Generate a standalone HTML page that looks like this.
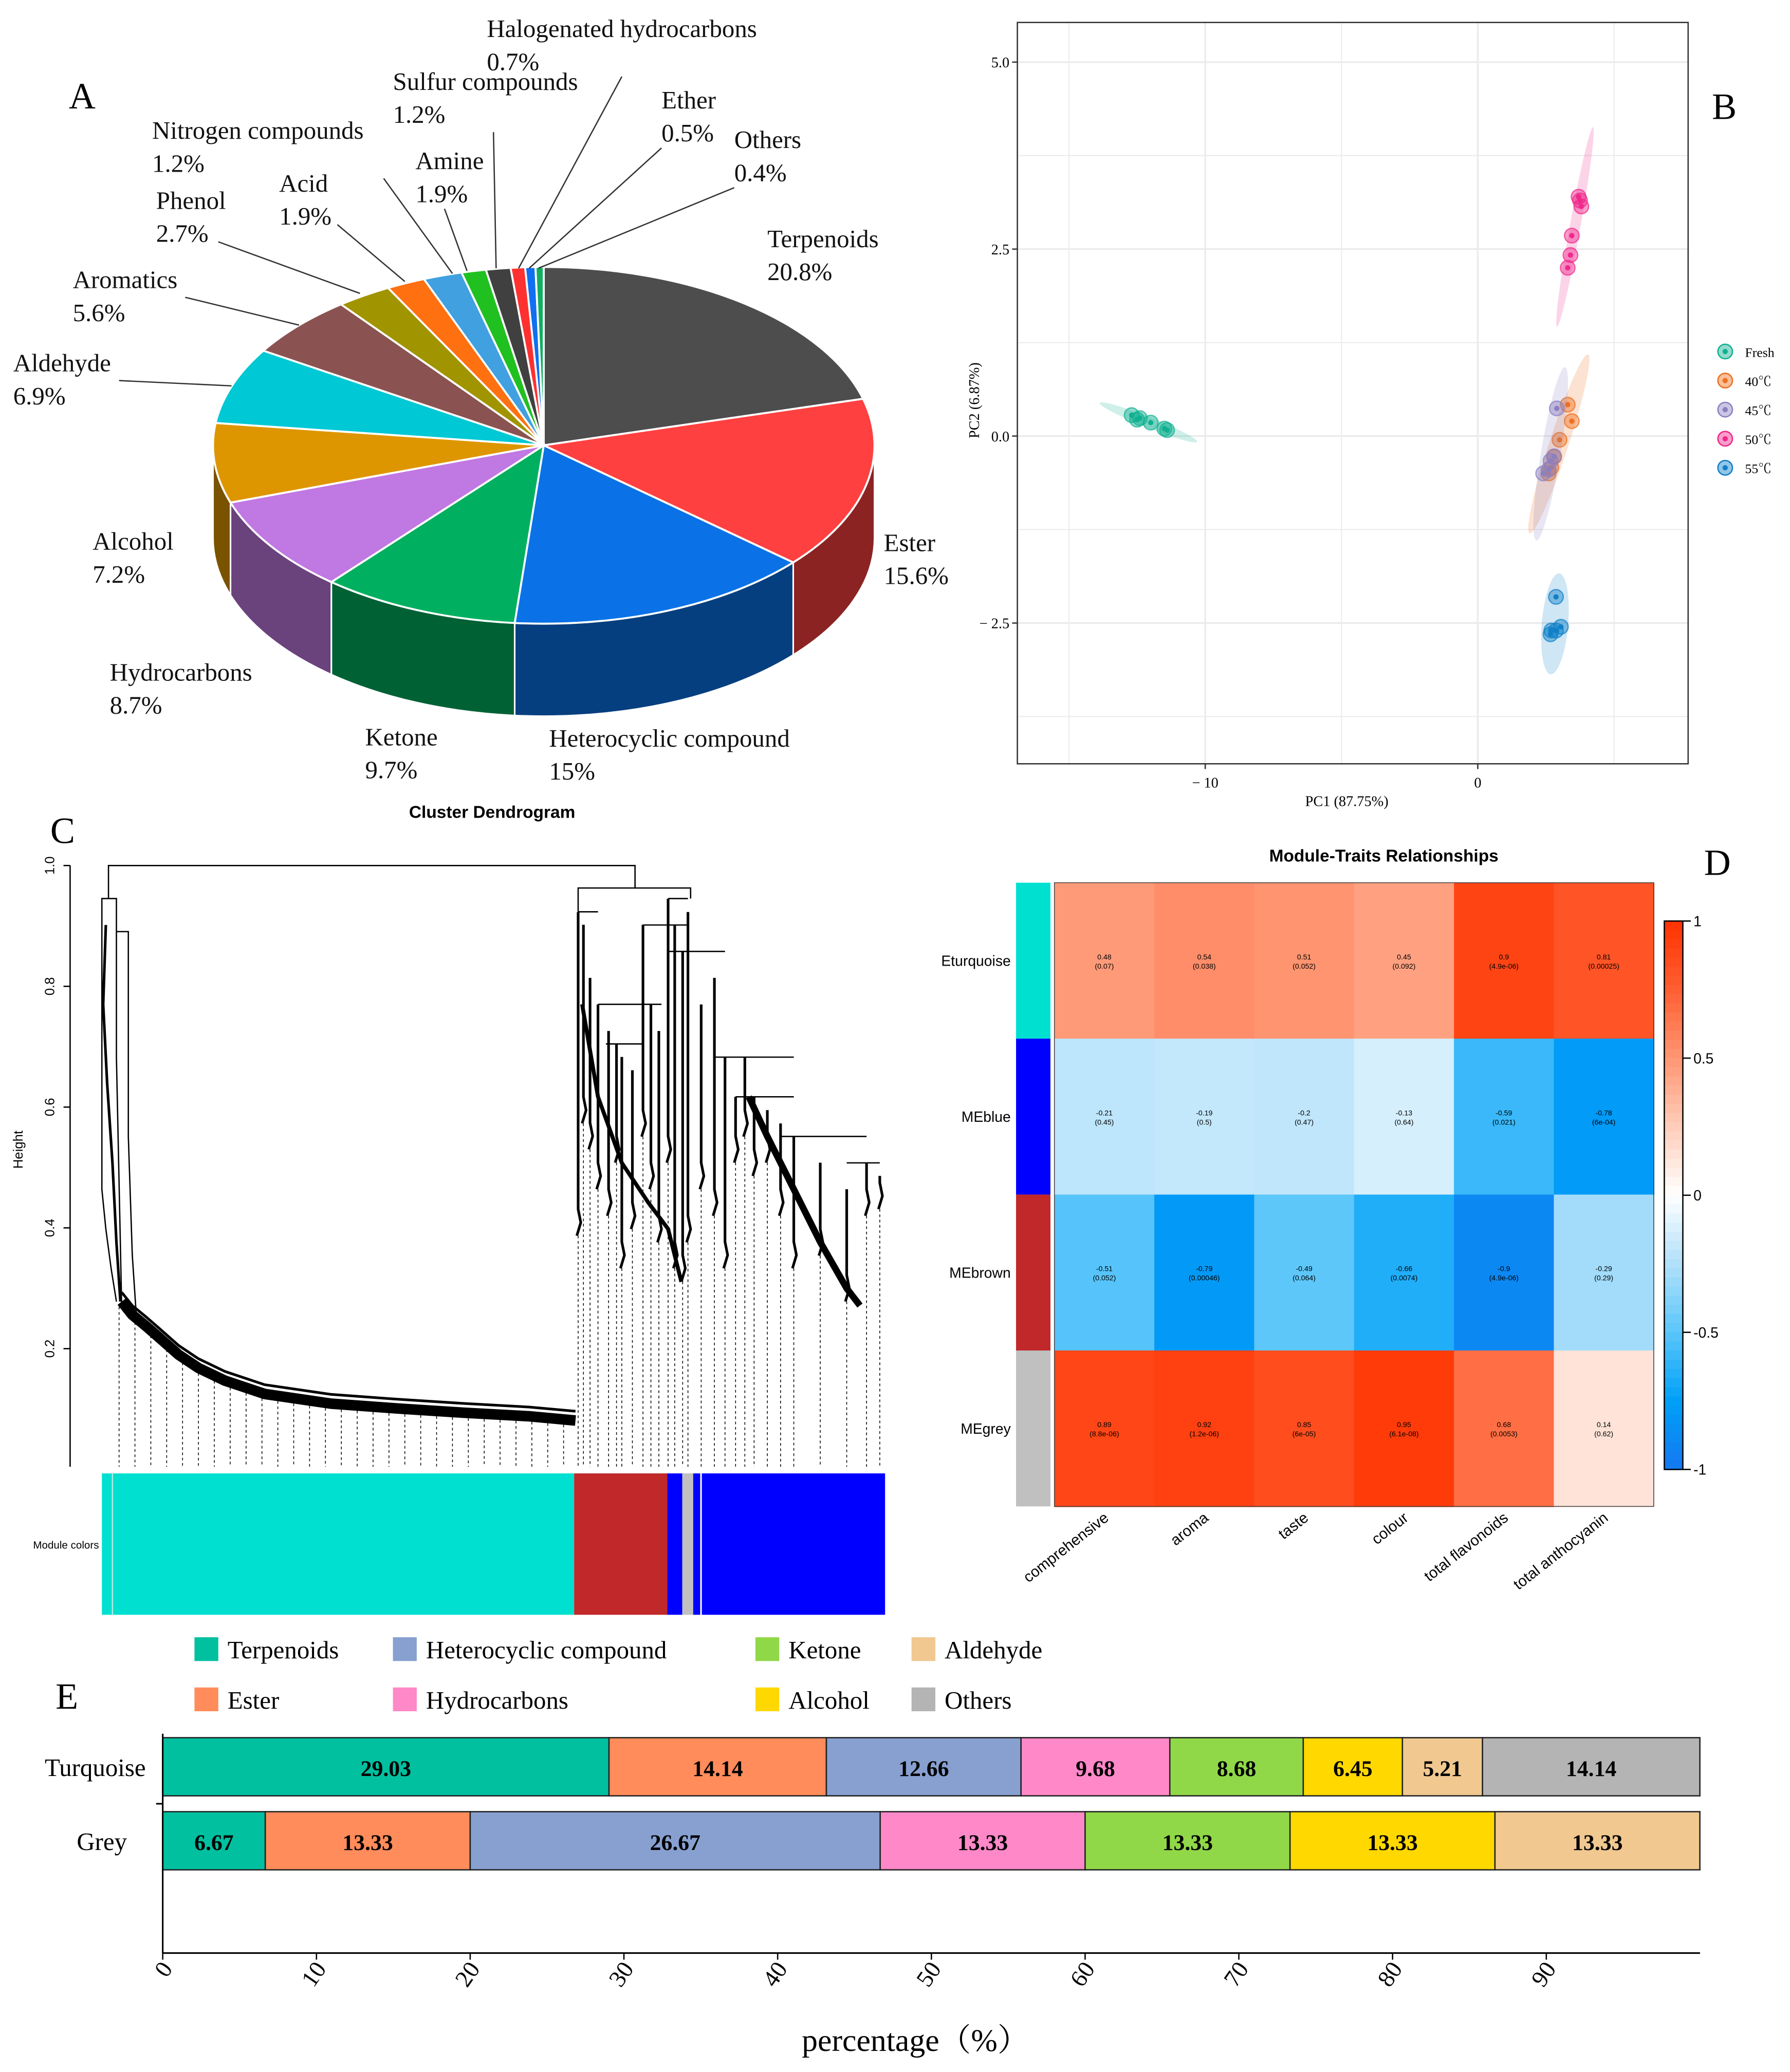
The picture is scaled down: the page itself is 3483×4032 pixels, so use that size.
<!DOCTYPE html>
<html><head><meta charset="utf-8"><style>
html,body{margin:0;padding:0;background:#fff}
svg{display:block}
.serif{font-family:"Liberation Serif","Noto Serif CJK SC",serif}
.sans{font-family:"Liberation Sans","Noto Sans CJK SC",sans-serif}
</style></head><body>
<svg id="fig" width="3483" height="4032" viewBox="0 0 1353 1568" preserveAspectRatio="none" xmlns="http://www.w3.org/2000/svg">
<rect x="0" y="0" width="1353" height="1568" fill="#fff"/>
<g id="pieG"></g>
<g id="pcaG"></g>
<g id="dendG"></g>
<g id="heatG"></g>
<g id="barG"></g>
<g class="serif" font-size="28">
<text x="52" y="82">A</text>
<text x="1294" y="90">B</text>
<text x="38" y="638">C</text>
<text x="1288" y="662">D</text>
<text x="42" y="1293">E</text>
</g>
</svg>
<script>
const NS='http://www.w3.org/2000/svg';
function mk(parent,tag,attrs,text){const e=document.createElementNS(NS,tag);for(const k in attrs)e.setAttribute(k,attrs[k]);if(text!==undefined)e.textContent=text;parent.appendChild(e);return e;}

/* ---------- A: pie data ---------- */
const pieLabels=['Terpenoids','Ester','Heterocyclic compound','Ketone','Hydrocarbons','Alcohol','Aldehyde','Aromatics','Phenol','Acid','Amine','Nitrogen compounds','Sulfur compounds','Halogenated hydrocarbons','Ether','Others'];
const pieValues=[20.8,15.6,15,9.7,8.7,7.2,6.9,5.6,2.7,1.9,1.9,1.2,1.2,0.7,0.5,0.4];
const pieColors=['#4d4d4d','#ff4040','#0a72e6','#00b060','#c078e2','#de9600','#00c8d4','#8b5252','#a09400','#ff7010','#40a0e0','#20c020','#404040','#ff3030','#1070f0','#10b060'];
const pieLabelPos=[[580,187],[668,417],[415,565],[276,564],[83,515],[70,416],[10,281],[55,218],[118,158],[211,145],[314,128],[115,105],[297,68],[368,28],[500,82],[555,112]];
const pieLeader=[null,null,null,null,null,null,[90,288,175,292],[140,225,226,246],[165,183,272,222],[255,170,306,213],[336,158,353,205],[290,135,342,207],[373,100,375,203],[470,58,392,203],[500,112,400,203],[555,142,407,203]];
(function(){
 const g=document.getElementById('pieG');
 const cx=411,cy=337,rx=250,ry=135,D=70;
 const P=(t,dy=0)=>{const r=t*Math.PI/180;return [cx+rx*Math.sin(r),cy-ry*Math.cos(r)+dy];};
 const tot=pieValues.reduce((a,b)=>a+b,0);
 const dark=(h,f)=>{const n=parseInt(h.slice(1),16);return `rgb(${Math.round((n>>16)*f)},${Math.round(((n>>8)&255)*f)},${Math.round((n&255)*f)})`;};
 let a=0;const sl=[];
 pieValues.forEach((v,i)=>{const b=a+v/tot*360;sl.push([a,b]);a=b;});
 sl.forEach(([a0,b0],i)=>{
   const s=Math.max(a0,90),e=Math.min(b0,270);if(e<=s)return;
   const p1=P(s),p2=P(e),p3=P(e,D),p4=P(s,D);
   const side=mk(g,'path',{d:`M${p1} A${rx} ${ry} 0 0 1 ${p2} L${p3} A${rx} ${ry} 0 0 0 ${p4} Z`,fill:dark(pieColors[i],0.55),stroke:'#fff','stroke-width':1.2});
   
   
 });
 sl.forEach(([a0,b0],i)=>{
   const p1=P(a0),p2=P(b0);const large=(b0-a0)>180?1:0;
   const s=mk(g,'path',{d:`M${cx},${cy} L${p1} A${rx} ${ry} 0 ${large} 1 ${p2} Z`,fill:pieColors[i],stroke:'#fff','stroke-width':1.5});
   
   
 });
 pieLabels.forEach((l,i)=>{
   const [x,y]=pieLabelPos[i];
   if(pieLeader[i]){const L=pieLeader[i];const ln=mk(g,'line',{x1:L[0],y1:L[1],x2:L[2],y2:L[3],stroke:'#333','stroke-width':1});
     
     }
   const t=mk(g,'text',{x:x,y:y,'font-size':19,class:'serif',fill:'#111'});
   
   
   mk(t,'tspan',{x:x,dy:0},l);
   mk(t,'tspan',{x:x,dy:25},(pieValues[i])+'%');
 });
})();

/* ---------- B: PCA ---------- */
const pcaGroups=['Fresh','40℃','45℃','50℃','55℃'];
const pcaColors=['#10b090','#f07020','#8a80c0','#f0288c','#1080c8'];
const pcaPC1=[[-12.7,-12.4,-12.0,-11.5,-11.4,-12.5],[3.3,3.45,3.0,2.8,2.6,2.7],[2.9,2.8,2.67,2.4,2.6],[3.7,3.8,3.45,3.4,3.3,3.75],[2.87,3.05,2.87,2.67,2.7]];
const pcaPC2=[[0.28,0.24,0.18,0.1,0.08,0.22],[0.42,0.2,-0.05,-0.28,-0.5,-0.42],[0.37,-0.27,-0.33,-0.5,-0.45],[3.2,3.07,2.68,2.42,2.25,3.15],[-2.15,-2.55,-2.6,-2.65,-2.6]];
const pcaXTicks=[-10,0];const pcaYTicks=[5.0,2.5,0.0,-2.5];
(function(){
 const g=document.getElementById('pcaG');
 const X=v=>1117+v*20.6, Y=v=>330-v*56.6;
 const L=769,R=1276,T=17,B=578;
 [-15,-10,-5,0,5].forEach(v=>{const ln=mk(g,'line',{x1:X(v),x2:X(v),y1:T,y2:B,stroke:'#ebebeb','stroke-width':v%10===0?1.3:0.8});
   
   });
 [5,3.75,2.5,1.25,0,-1.25,-2.5,-3.75].forEach(v=>{const ln=mk(g,'line',{x1:L,x2:R,y1:Y(v),y2:Y(v),stroke:'#ebebeb','stroke-width':v%2.5===0?1.3:0.8});
   
   });
 const box=mk(g,'rect',{x:L,y:T,width:R-L,height:B-T,fill:'none',stroke:'#333','stroke-width':1});
 
 
 pcaXTicks.forEach(v=>{mk(g,'line',{x1:X(v),x2:X(v),y1:B,y2:B+4,stroke:'#333'});
   const t=mk(g,'text',{x:X(v),y:B+18,'font-size':11,'text-anchor':'middle',class:'serif'},v<0?'− '+Math.abs(v):String(v));
   
   });
 pcaYTicks.forEach(v=>{mk(g,'line',{x1:L-4,x2:L,y1:Y(v),y2:Y(v),stroke:'#333'});
   const t=mk(g,'text',{x:L-6,y:Y(v)+4,'font-size':11,'text-anchor':'end',class:'serif'},(v<0?'− '+Math.abs(v).toFixed(1):v.toFixed(1)));
   
   });
 const xt=mk(g,'text',{x:1018,y:610,'font-size':11,'text-anchor':'middle',class:'serif'},'PC1 (87.75%)');
 
 
 const yt=mk(g,'text',{x:0,y:0,'font-size':11,'text-anchor':'middle',class:'serif',transform:'translate(740,303) rotate(-90)'},'PC2 (6.87%)');
 
 
 pcaGroups.forEach((name,gi)=>{
   const xs=pcaPC1[gi].map(X),ys=pcaPC2[gi].map(Y),n=xs.length;
   const mx=xs.reduce((a,b)=>a+b)/n,my=ys.reduce((a,b)=>a+b)/n;
   let sxx=0,syy=0,sxy=0;for(let i=0;i<n;i++){sxx+=(xs[i]-mx)**2;syy+=(ys[i]-my)**2;sxy+=(xs[i]-mx)*(ys[i]-my);}
   sxx/=(n-1);syy/=(n-1);sxy/=(n-1);
   const tr=sxx+syy,det=sxx*syy-sxy*sxy,d=Math.sqrt(Math.max(tr*tr/4-det,0));
   const l1=tr/2+d,l2=Math.max(tr/2-d,0);
   const ang=Math.atan2(l1-sxx,sxy||1e-9)*180/Math.PI;
   const k=3.3;
   const el=mk(g,'ellipse',{cx:mx,cy:my,rx:Math.max(Math.sqrt(l1)*k,6),ry:Math.max(Math.sqrt(l2)*k,4),fill:pcaColors[gi],'fill-opacity':0.2,transform:`rotate(${ang} ${mx} ${my})`});
   
   
   for(let i=0;i<n;i++){
     const c=mk(g,'circle',{cx:xs[i],cy:ys[i],r:5.5,fill:pcaColors[gi],'fill-opacity':0.45,stroke:pcaColors[gi],'stroke-opacity':0.7});
     
     
     mk(g,'circle',{cx:xs[i],cy:ys[i],r:2,fill:pcaColors[gi]});
   }
   const ly=266+gi*22;
   const lc=mk(g,'circle',{cx:1304,cy:ly,r:5.5,fill:pcaColors[gi],'fill-opacity':0.45,stroke:pcaColors[gi]});
   
   
   mk(g,'circle',{cx:1304,cy:ly,r:2,fill:pcaColors[gi]});
   const lt=mk(g,'text',{x:1319,y:ly+4,'font-size':10,class:'serif'},name);
   
   
 });
})();

/* ---------- C: dendrogram ---------- */
const dendYTicks=[0.2,0.4,0.6,0.8,1.0];
const leftBandX=[92,100,110,120,135,150,170,200,250,300,350,400,435];
const leftBandH=[0.278,0.256,0.238,0.219,0.190,0.168,0.147,0.125,0.109,0.101,0.094,0.088,0.081];
const rightDropX=[437,441,446,452,460,466,470,478,486,492,498,505,510,516,520,530,540,548,556,563,570,580,590,600,620,640,655,665];
const rightDropTop=[0.923,0.902,0.814,0.770,0.726,0.705,0.683,0.661,0.902,0.770,0.726,0.945,0.902,0.858,0.923,0.770,0.814,0.683,0.617,0.683,0.617,0.595,0.573,0.551,0.508,0.464,0.508,0.486];
const rightDropBot=[0.387,0.573,0.530,0.464,0.420,0.508,0.333,0.398,0.551,0.464,0.376,0.508,0.333,0.311,0.376,0.464,0.420,0.333,0.508,0.551,0.486,0.508,0.420,0.333,0.354,0.278,0.420,0.431];
const moduleSegs=[['#00e0d0',0,0.603],['#c0282a',0.603,0.722],['#0000ff',0.722,0.741],['#c0c0c0',0.741,0.755],['#0000ff',0.755,0.764],['#ffffff',0.764,0.766],['#0000ff',0.766,1]];
(function(){
 const g=document.getElementById('dendG');
 const Y=h=>1112-h*457;
 const ax=mk(g,'line',{x1:53,x2:53,y1:Y(1.0),y2:1110,stroke:'#000'});
 
 
 dendYTicks.forEach(v=>{mk(g,'line',{x1:48,x2:53,y1:Y(v),y2:Y(v),stroke:'#000'});
  const t=mk(g,'text',{x:0,y:0,'font-size':10,'text-anchor':'middle',class:'sans',transform:`translate(41,${Y(v)}) rotate(-90)`},v.toFixed(1));
  
  });
 const ht=mk(g,'text',{x:0,y:0,'font-size':10,'text-anchor':'middle',class:'sans',transform:'translate(17,870) rotate(-90)'},'Height');
 
 
 const tt=mk(g,'text',{x:372,y:619,'font-size':13,'font-weight':'bold','text-anchor':'middle',class:'sans'},'Cluster Dendrogram');
 
 
 const st={stroke:'#000','stroke-width':1,fill:'none'};
 mk(g,'path',Object.assign({d:`M82 680 V655 H480 V672`},st));
 mk(g,'path',Object.assign({d:`M437 690 V672 H522 V680`},st));
 // left branch
 mk(g,'path',Object.assign({d:`M77 750 V680 H88 V705 H97 V735 M77 750 V900 L80 930 L84 960 L88 985 M88 705 V800 L92 990 M97 735 V860 L100 950 L103 995`},st));
 mk(g,'path',Object.assign({d:`M80 700 L78 760 L81 820 L85 880 L88 940 L91 985`},{stroke:'#000','stroke-width':2,fill:'none'}));
 let d='M'+leftBandX[0]+' '+Y(leftBandH[0]);
 leftBandX.forEach((x,i)=>{d+=` L${x} ${Y(leftBandH[i])}`;});
 const band=mk(g,'path',{d:d,stroke:'#000','stroke-width':8,fill:'none','stroke-linejoin':'round'});
 
 
 mk(g,'path',{d:d,transform:'translate(0,-7)',stroke:'#000','stroke-width':2,fill:'none'});
 for(let x=90;x<=430;x+=12){
   let i=0;while(i<leftBandX.length-1&&leftBandX[i+1]<x)i++;
   const t=(x-leftBandX[i])/((leftBandX[i+1]||x+1)-leftBandX[i]);
   const h=leftBandH[i]+(leftBandH[Math.min(i+1,leftBandH.length-1)]-leftBandH[i])*Math.max(0,Math.min(1,t));
   const ln=mk(g,'line',{x1:x,x2:x,y1:Y(h)+4,y2:1110,stroke:'#000','stroke-width':0.6,'stroke-dasharray':'2,2'});
   
   
 }
 // right branches
 mk(g,'path',Object.assign({d:`M437 690 H452 M486 700 H520 M452 760 H500 M505 720 H548 M540 800 H600 M556 830 H600 M590 860 H655 M640 880 H665 M458 790 H486 M505 680 H520`},st));
 rightDropX.forEach((x,i)=>{
   const y1=Y(rightDropTop[i]),y2=Y(rightDropBot[i]);
   const p=mk(g,'path',{d:`M${x} ${y1} V${y2-20} L${x+2} ${y2-10} L${x-1} ${y2}`,stroke:'#000','stroke-width':2,fill:'none'});
   
   
   const ln=mk(g,'line',{x1:x,x2:x,y1:y2,y2:1110,stroke:'#000','stroke-width':0.6,'stroke-dasharray':'2,2'});
   
   
 });
 mk(g,'path',{d:`M566 830 L580 860 L600 900 L620 940 L640 975 L650 988`,stroke:'#000','stroke-width':5,fill:'none'});
 mk(g,'path',{d:`M440 760 L452 830 L470 880 L490 910 L505 930 L515 970`,stroke:'#000','stroke-width':3,fill:'none'});
 const x0=77,x1=669;
 moduleSegs.forEach(([c,a,b])=>{const r=mk(g,'rect',{x:x0+a*(x1-x0),y:1115,width:(b-a)*(x1-x0),height:107,fill:c});
  
  });
 mk(g,'line',{x1:85,x2:85,y1:1115,y2:1222,stroke:'#b0e8e0','stroke-width':1});
 const ml=mk(g,'text',{x:25,y:1172,'font-size':8,class:'sans'},'Module colors');
 
 
})();

/* ---------- D: heatmap ---------- */
const hmRows=['MEturquoise','MEblue','MEbrown','MEgrey'];
const hmRowColors=['#00e0d0','#0000ff','#c0282a','#c0c0c0'];
const hmCols=['comprehensive','aroma','taste','colour','total flavonoids','total anthocyanin'];
const hmCorr=[[0.48,0.54,0.51,0.45,0.9,0.81],[-0.21,-0.19,-0.2,-0.13,-0.59,-0.78],[-0.51,-0.79,-0.49,-0.66,-0.9,-0.29],[0.89,0.92,0.85,0.95,0.68,0.14]];
const hmP=[['0.07','0.038','0.052','0.092','4.9e-06','0.00025'],['0.45','0.5','0.47','0.64','0.021','6e-04'],['0.052','0.00046','0.064','0.0074','4.9e-06','0.29'],['8.8e-06','1.2e-06','6e-05','6.1e-08','0.0053','0.62']];
const cbTicks=[1,0.5,0,-0.5,-1];
const cStops=[[-1,[20,120,240]],[-0.75,[0,160,248]],[-0.5,[90,198,250]],[-0.25,[176,224,250]],[0,[255,255,255]],[0.25,[255,205,185]],[0.5,[255,150,115]],[0.75,[255,95,50]],[1,[255,50,0]]];
function hmColor(v){for(let i=0;i<cStops.length-1;i++){const [a,ca]=cStops[i],[b,cb]=cStops[i+1];if(v<=b||i===cStops.length-2){const t=Math.max(0,Math.min(1,(v-a)/(b-a)));return `rgb(${ca.map((c,k)=>Math.round(c+(cb[k]-c)*t)).join(',')})`;}}}
(function(){
 const g=document.getElementById('heatG');
 const L=797,T=668,W=75.5,H=118;
 const tt=mk(g,'text',{x:1046,y:652,'font-size':13,'font-weight':'bold','text-anchor':'middle',class:'sans'},'Module-Traits Relationships');
 
 
 hmRows.forEach((r,i)=>{
   const s=mk(g,'rect',{x:768,y:T+i*H,width:26,height:H,fill:hmRowColors[i]});
   
   
   const lt=mk(g,'text',{x:764,y:T+i*H+H/2+4,'font-size':11,'text-anchor':'end',class:'sans'},i===0?'Eturquoise':r);
   
   
   hmCols.forEach((c,j)=>{
     const cell=mk(g,'rect',{x:L+j*W,y:T+i*H,width:W+0.5,height:H+0.5,fill:hmColor(hmCorr[i][j])});
     
     
     const t=mk(g,'text',{x:L+j*W+W/2,y:T+i*H+H/2-1,'font-size':5.5,'text-anchor':'middle',class:'sans'},String(hmCorr[i][j]));
     
     
     mk(g,'text',{x:L+j*W+W/2,y:T+i*H+H/2+6,'font-size':5.5,'text-anchor':'middle',class:'sans'},'('+hmP[i][j]+')');
   });
 });
 mk(g,'rect',{x:L,y:T,width:W*6,height:H*4,fill:'none',stroke:'#444','stroke-width':0.6});
 hmCols.forEach((c,j)=>{const x=L+j*W+W/2+4;
   const t=mk(g,'text',{x:0,y:0,'font-size':11.5,'text-anchor':'end',class:'sans',transform:`translate(${x},1150) rotate(-38)`},c);
   
   });
 const cbT=697,cbB=1112,cbX=1258;
 const CY=v=>cbT+(1-v)/2*(cbB-cbT);
 for(let k=0;k<60;k++){const v=1-k/60*2;mk(g,'rect',{x:cbX,y:CY(v),width:14,height:(cbB-cbT)/60+0.5,fill:hmColor(v-1/60)});}
 const cb=mk(g,'rect',{x:cbX,y:cbT,width:14,height:cbB-cbT,fill:'none',stroke:'#000','stroke-width':1});
 
 
 cbTicks.forEach(v=>{mk(g,'line',{x1:cbX+14,x2:cbX+20,y1:CY(v),y2:CY(v),stroke:'#000'});
   const t=mk(g,'text',{x:cbX+22,y:CY(v)+4,'font-size':11,class:'sans'},String(v));
   
   });
})();

/* ---------- E: stacked bar ---------- */
const barCats=['Turquoise','Grey'];
const barSeriesNames=[['Terpenoids','Ester','Heterocyclic compound','Hydrocarbons','Ketone','Alcohol','Aldehyde','Others'],['Terpenoids','Ester','Heterocyclic compound','Hydrocarbons','Ketone','Alcohol','Aldehyde']];
const barTurquoise=[29.03,14.14,12.66,9.68,8.68,6.45,5.21,14.14];
const barGrey=[6.67,13.33,26.67,13.33,13.33,13.33,13.33];
const barXTicks=[0,10,20,30,40,50,60,70,80,90];
const catColors={'Terpenoids':'#00c0a0','Ester':'#ff8c5a','Heterocyclic compound':'#87a0d0','Hydrocarbons':'#ff88c8','Ketone':'#90d848','Alcohol':'#ffd800','Aldehyde':'#f0c890','Others':'#b4b4b4'};
const legendOrder=['Terpenoids','Heterocyclic compound','Ketone','Aldehyde','Ester','Hydrocarbons','Alcohol','Others'];
(function(){
 const g=document.getElementById('barG');
 const X=v=>123+v*11.62;
 const legX=[147,297,571,689];
 legendOrder.forEach((n,i)=>{const x=legX[i%4],y=1248+Math.floor(i/4)*38;
   const r=mk(g,'rect',{x:x,y:y-9,width:18,height:18,fill:catColors[n]});
   
   
   const t=mk(g,'text',{x:x+25,y:y+7,'font-size':19,class:'serif'},n);
   
   });
 const rows=[[barTurquoise,1315],[barGrey,1371]];
 rows.forEach(([vals,y],ri)=>{
   let acc=0;
   vals.forEach((v,i)=>{const n=barSeriesNames[ri][i];
     const r=mk(g,'rect',{x:X(acc),y:y,width:X(acc+v)-X(acc),height:44,fill:catColors[n],stroke:'#222','stroke-width':1});
     
     
     const t=mk(g,'text',{x:(X(acc)+X(acc+v))/2,y:y+29,'font-size':17,'font-weight':'bold','text-anchor':'middle',class:'serif'},v.toFixed(2));
     
     
     acc+=v;});
   const c=mk(g,'text',{x:ri===0?72:77,y:y+29,'font-size':19,'text-anchor':'middle',class:'serif'},barCats[ri]);
   
   
 });
 mk(g,'line',{x1:123,x2:123,y1:1312,y2:1478,stroke:'#000','stroke-width':1.2});
 mk(g,'line',{x1:118,x2:123,y1:1365,y2:1365,stroke:'#000','stroke-width':1.2});
 const xa=mk(g,'line',{x1:123,x2:1285,y1:1478,y2:1478,stroke:'#000','stroke-width':1.2});
 
 
 barXTicks.forEach(v=>{mk(g,'line',{x1:X(v),x2:X(v),y1:1478,y2:1483,stroke:'#000'});
   const t=mk(g,'text',{x:0,y:0,'font-size':18,'text-anchor':'end',class:'serif',transform:`translate(${X(v)+8},1490) rotate(-55)`},String(v));
   
   });
 const xt=mk(g,'text',{x:692,y:1552,'font-size':24,'text-anchor':'middle',class:'serif'},'percentage（%）');
 
 
})();
</script>
</body></html>
